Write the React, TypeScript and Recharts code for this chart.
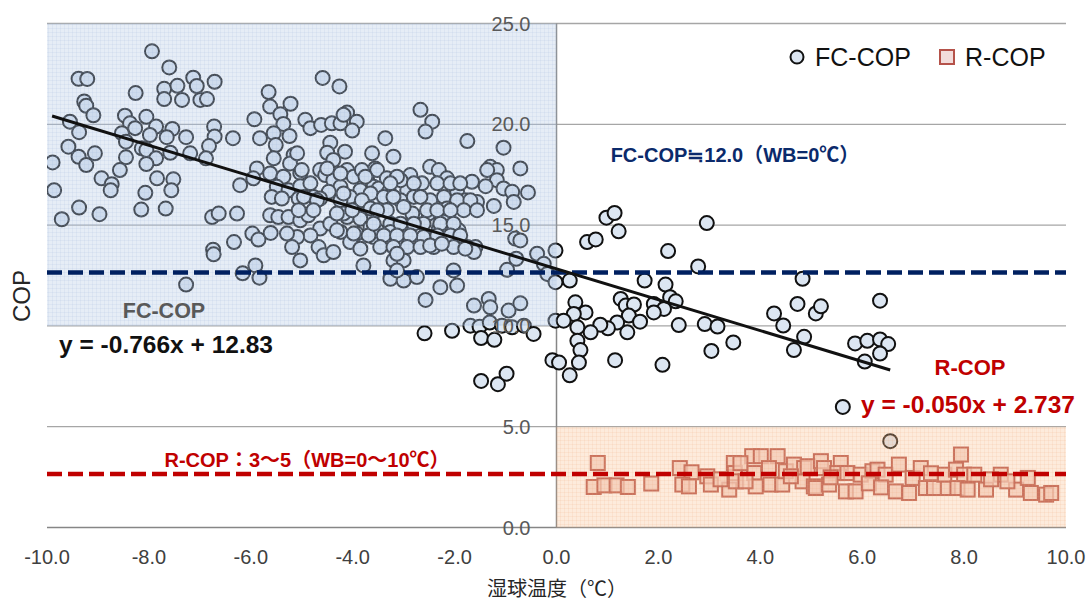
import React from 'react';
import { ScatterChart, Scatter, XAxis, YAxis, ReferenceLine, ReferenceArea, ReferenceDot } from 'recharts';

const W = 1089;
const H = 603;
const FONT = "'Liberation Sans', Arial, sans-serif";
const FONT_JP = "'Liberation Sans', 'Noto Sans CJK JP', sans-serif";

const xTicks = [-10, -8, -6, -4, -2, 0, 2, 4, 6, 8, 10];
const yTicks = [0, 5, 10, 15, 20, 25];

// FC-COP: wet-bulb temperature (x) and COP (y)
const fcWb = [
  -7.94, -7.60, -9.38, -9.21, -8.26, -7.70, -7.44, -7.13, -7.06, -6.71, -7.70, -7.35, -6.99, -6.86, -9.27, -9.23,
  -9.09, -9.55, -9.37, -8.47, -8.05, -8.37, -8.27, -8.53, -8.45, -7.86, -7.54, -7.98, -7.65, -7.27, -6.72, -6.71,
  -6.82, -6.35, -5.93, -5.65, -5.62, -5.22, -5.42, -5.36, -5.55, -5.24, -5.82, -5.51, -5.55, -5.16, -5.23, -9.58,
  -9.38, -9.23, -9.06, -9.89, -8.45, -8.57, -8.14, -8.05, -7.86, -8.05, -7.58, -7.19, -6.88, -7.84, -7.52, -8.93,
  -8.73, -5.88, -5.95, -6.21, -5.62, -5.36, -9.86, -9.71, -9.37, -8.97, -8.75, -8.07, -8.15, -7.67, -7.56, -6.76,
  -6.63, -6.27, -6.74, -6.73, -6.33, -5.97, -5.85, -5.61, -7.27, -6.16, -5.91, -5.83, -5.09, -4.93, -4.83, -4.62,
  -4.41, -4.24, -4.11, -3.92, -4.01, -4.44, -4.50, -4.15, -3.62, -3.56, -5.03, -5.49, -5.26, -5.03, -4.83, -5.59,
  -5.39, -5.06, -4.77, -4.64, -4.54, -4.38, -4.24, -4.11, -3.98, -3.82, -3.72, -3.59, -3.52, -3.85, -4.05, -4.24,
  -4.47, -4.64, -5.62, -5.46, -5.26, -5.03, -4.87, -4.64, -4.83, -5.09, -5.29, -5.19, -5.03, -4.67, -4.57, -4.38,
  -4.24, -4.11, -3.85, -3.65, -3.92, -4.05, -3.85, -3.79, -3.59, -4.59, -4.26, -4.18, -4.38, -5.00, -3.36, -3.20,
  -2.67, -2.44, -2.57, -1.75, -1.04, -0.71, -0.56, -1.30, -1.17, -1.36, -1.17, -1.04, -0.87, -0.84, -1.23, -1.66,
  -1.39, -2.48, -2.31, -2.15, -1.95, -1.79, -1.56, -2.87, -2.64, -2.93, -3.06, -3.49, -3.29, -3.65, -3.82, -1.92,
  -2.25, -2.51, -2.83, -2.61, -2.31, -4.18, -4.44, -5.06, -3.52, -3.26, -0.81, -0.71, -4.50, -4.24, -3.75, -3.33,
  -3.13, -2.80, -4.96, -4.70, -4.18, -3.39, -3.06, -2.80, -2.48, -2.21, -1.95, -1.69, -4.77, -4.31, -4.01, -3.65,
  -3.33, -3.00, -2.15, -1.82, -4.31, -3.98, -3.69, -3.26, -2.97, -2.61, -3.26, -2.34, -2.08, -1.89, -3.20, -2.67,
  -3.52, -2.54, -2.34, -2.08, -1.56, -3.59, -3.06, -2.80, -2.28, -2.02, -3.39, -3.13, -2.87, -2.34, -2.08, -1.89,
  -3.46, -3.20, -2.93, -2.67, -2.41, -2.02, -1.75, -1.59, -3.20, -3.00, -0.38, -0.25, -0.18, -0.02, -0.02, -2.02,
  -1.95, -2.28, -3.26, -3.00, -2.74, -3.13, -1.62, -1.79, -2.57, -2.48, -2.25, -0.79, -0.97, -1.62, -1.33, -1.30,
  -0.94, -0.71, -1.69, -1.51, -1.31, -1.07, -0.87, -0.64, -0.45, -1.48, -1.22, -2.59, -2.05, -1.48, -1.15, -0.98,
  -0.08, 0.05, -0.02, -3.13,
  0.98, 1.14, 1.22, 0.60, 0.77, 2.95, 2.19, 2.78, 0.26, 1.73, 2.14, 2.23, 2.34, 1.91, 2.11, 1.91,
  1.26, 1.36, 1.52, 1.42, 1.64, 1.39, 1.19, 1.01, 0.86, 0.67, 0.57, 0.37, 0.34, 0.14, 0.41, 0.41,
  0.47, 0.44, 0.26, 1.15, 2.08, 2.40, 2.91, 3.16, 3.47, 3.04, 4.27, 4.45, 4.73, 4.83, 4.86, 4.66,
  5.09, 5.19, 6.35, 5.86, 6.10, 6.35, 6.51, 6.35, 6.05, 5.62, 6.55,
];
const fcCop = [
  23.62, 22.82, 22.26, 22.25, 21.55, 21.76, 21.91, 22.31, 21.90, 22.11, 21.25, 21.21, 21.21, 21.25, 21.13, 20.92,
  20.45, 20.13, 19.61, 20.43, 20.37, 20.05, 19.81, 19.56, 19.14, 19.89, 19.77, 19.47, 19.36, 19.36, 19.89, 19.39,
  18.92, 19.31, 20.25, 21.60, 20.88, 21.02, 20.50, 20.02, 19.56, 19.42, 19.31, 18.97, 18.31, 18.48, 18.06, 18.89,
  18.39, 17.98, 18.56, 18.11, 18.36, 17.73, 18.81, 18.72, 18.31, 18.03, 18.59, 18.56, 18.31, 17.32, 17.27, 17.32,
  17.03, 17.81, 17.32, 16.98, 17.56, 17.40, 16.73, 15.29, 15.87, 15.54, 16.73, 16.60, 15.77, 15.82, 16.73, 15.40,
  15.57, 15.57, 13.78, 13.55, 14.16, 14.58, 14.28, 14.61, 12.05, 12.61, 13.00, 12.39, 18.56, 20.22, 19.81, 19.97,
  20.05, 20.05, 20.58, 20.13, 19.69, 19.09, 18.59, 18.64, 18.56, 17.81, 17.59, 16.90, 16.73, 16.93, 17.07, 16.40,
  16.32, 16.32, 16.40, 17.73, 17.48, 17.23, 16.90, 17.73, 17.40, 17.73, 17.32, 16.90, 17.73, 16.73, 16.40, 16.23,
  16.65, 16.32, 15.49, 15.40, 15.40, 15.24, 15.49, 14.83, 14.49, 14.41, 14.58, 13.91, 13.25, 13.91, 13.50, 13.66,
  14.66, 15.40, 15.32, 14.91, 14.58, 14.16, 13.83, 13.00, 14.41, 22.30, 21.88, 20.47, 18.23, 17.73, 19.31, 18.39,
  20.72, 20.13, 19.64, 19.17, 18.84, 17.81, 16.62, 17.89, 17.73, 17.73, 17.23, 16.82, 16.65, 16.15, 15.95, 17.15,
  16.93, 17.89, 17.73, 17.32, 16.65, 16.23, 16.15, 17.48, 17.07, 16.73, 17.23, 16.82, 16.65, 16.57, 16.23, 14.74,
  15.32, 15.57, 15.57, 15.07, 14.83, 15.57, 15.07, 15.74, 14.74, 15.07, 14.33, 14.24, 17.81, 17.56, 17.40, 17.32,
  17.40, 17.07, 16.40, 16.23, 16.57, 16.40, 16.23, 16.40, 16.23, 16.40, 16.23, 16.23, 15.74, 15.57, 15.74, 15.82,
  15.74, 15.90, 15.82, 15.74, 14.74, 14.58, 14.49, 14.66, 14.58, 14.41, 17.07, 17.07, 17.07, 17.07, 16.40, 16.40,
  15.74, 15.74, 15.74, 15.74, 15.74, 15.07, 15.07, 15.07, 15.07, 15.07, 14.49, 14.49, 14.49, 14.49, 14.49, 14.49,
  13.91, 13.91, 13.91, 13.91, 13.91, 13.91, 13.91, 13.91, 13.25, 13.25, 13.58, 13.08, 12.58, 13.74, 12.17, 12.75,
  12.00, 11.92, 12.34, 12.25, 12.42, 12.75, 13.66, 13.83, 11.29, 13.99, 14.08, 13.33, 12.78, 11.01, 11.34, 10.92,
  10.76, 11.12, 10.01, 9.96, 10.17, 10.01, 9.93, 10.01, 9.60, 9.40, 9.31, 9.63, 9.76, 7.27, 7.11, 7.63,
  8.30, 8.18, 10.26, 13.58,
  15.37, 15.60, 14.69, 14.16, 14.29, 15.10, 13.71, 12.95, 12.25, 12.25, 12.05, 11.42, 11.22, 11.09, 10.84, 10.67,
  11.34, 11.01, 11.06, 10.51, 10.21, 9.68, 10.17, 9.88, 10.06, 9.68, 10.67, 11.17, 10.59, 10.26, 9.93, 9.26,
  8.80, 8.18, 7.55, 8.30, 8.07, 10.04, 10.09, 9.97, 9.18, 8.76, 10.62, 10.02, 11.09, 12.34, 9.46, 8.80,
  10.62, 10.97, 11.25, 9.13, 9.26, 9.33, 9.10, 8.63, 8.23, 5.98, 4.28,
];

// R-COP
const rWb = [
  0.81, 0.73, 0.94, 1.18, 1.40, 1.86, 2.42, 2.65, 2.47, 2.60, 2.96, 3.03, 3.39, 3.48, 3.50, 3.52,
  3.84, 4.01, 4.34, 3.88, 4.17, 3.91, 4.20, 4.43, 4.50, 4.66, 4.86, 4.83, 5.05, 3.71, 4.93, 5.19,
  5.25, 5.58, 5.51, 5.71, 5.09, 5.35, 5.68, 5.87, 5.97, 6.20, 6.30, 6.46, 6.72, 6.66, 6.92, 6.99,
  7.15, 7.25, 7.41, 7.68, 7.61, 7.84, 7.94, 8.00, 7.87, 8.07, 8.43, 8.20, 8.72, 9.02, 9.31, 9.61,
  9.71, 8.85, 9.25, 3.22, 3.61, 4.60, 5.38, 6.13, 6.37, 7.35, 8.53,
];
const rCop = [
  3.20, 2.01, 2.09, 2.09, 2.01, 2.18, 2.95, 2.74, 2.13, 2.04, 2.54, 2.13, 1.88, 3.20, 2.70, 2.29,
  3.54, 3.54, 3.54, 2.70, 2.95, 2.04, 2.13, 2.13, 2.79, 3.12, 2.95, 2.29, 2.04, 2.29, 3.04, 3.29,
  2.95, 3.20, 2.70, 2.70, 1.96, 2.13, 1.79, 1.79, 2.62, 2.79, 2.87, 2.62, 3.12, 1.79, 1.71, 2.46,
  2.95, 1.96, 1.96, 1.96, 2.62, 2.87, 3.62, 2.62, 1.96, 1.88, 1.88, 2.62, 2.62, 1.88, 1.71, 1.63,
  1.71, 2.29, 2.46, 2.39, 3.19, 2.54, 2.49, 2.19, 1.99, 2.69, 2.39,
];

const fcSlope = -0.766;
const fcIntercept = 12.83;
const fcTrendRange = [-9.9, 6.55];
const fcLevel = 12.65;
const rLevel = 2.65;

const fcData = fcWb.map((x, i) => ({ x, y: fcCop[i] }));
const rData = rWb.map((x, i) => ({ x, y: rCop[i] }));

const CircleMark = (p: any) => (
  <circle cx={p.cx} cy={p.cy} r={7} fill="#dce6f2" stroke="#111" strokeWidth={2} />
);
const SquareMark = (p: any) => (
  <rect x={p.cx - 7} y={p.cy - 7} width={14} height={14} fill="#f2d0c8" fillOpacity={0.75} stroke="#b5524a" strokeWidth={2} />
);

const abs = (left: number, top: number, extra: any = {}) => ({
  position: 'absolute' as const,
  left,
  top,
  transform: 'translate(-50%, -50%)',
  whiteSpace: 'nowrap' as const,
  lineHeight: 1,
  ...extra,
});

export default function App() {
  return (
    <div style={{ position: 'absolute', left: 0, top: 0, width: W, height: H, background: '#fff' }}>
      <ScatterChart width={W} height={H} margin={{ top: 23.5, right: 23, bottom: 35.5, left: 47 }}>
        <defs>
          <pattern id="bluePat" width="4" height="4" patternUnits="userSpaceOnUse">
            <rect width="4" height="4" fill="rgb(180,200,228)" fillOpacity="0.33" />
            <rect width="4" height="1" fill="rgb(150,175,215)" fillOpacity="0.12" />
            <rect width="1" height="4" fill="rgb(150,175,215)" fillOpacity="0.12" />
          </pattern>
          <pattern id="orangePat" width="4" height="4" patternUnits="userSpaceOnUse">
            <rect width="4" height="4" fill="rgb(250,190,140)" fillOpacity="0.3" />
            <rect width="4" height="1" fill="rgb(240,170,120)" fillOpacity="0.12" />
            <rect width="1" height="4" fill="rgb(240,170,120)" fillOpacity="0.12" />
          </pattern>
        </defs>
        <XAxis
          type="number"
          dataKey="x"
          domain={[-10, 10]}
          ticks={xTicks}
          tickFormatter={(v: number) => v.toFixed(1)}
          axisLine={{ stroke: '#868686', strokeWidth: 1.5 }}
          tickLine={false}
          tickSize={0}
          tickMargin={22}
          height={40}
          tick={{ fill: '#404040', fontSize: 20, fontFamily: FONT }}
          allowDataOverflow
        />
        <YAxis type="number" dataKey="y" domain={[0, 25]} hide allowDataOverflow />
        {yTicks.slice(1).map((v) => (
          <ReferenceLine key={'g' + v} y={v} stroke="#a6a6a6" strokeWidth={1.3} />
        ))}
        <ReferenceLine x={0} stroke="#868686" strokeWidth={1.5} />
        {yTicks.map((v) => (
          <ReferenceDot
            key={'t' + v}
            x={0}
            y={v}
            r={1}
            fill="none"
            stroke="none"
            label={{ value: v.toFixed(1), position: 'left', offset: 25, fill: '#595959', fontSize: 20, fontFamily: FONT }}
          />
        ))}
        <Scatter data={fcData} shape={CircleMark} isAnimationActive={false} />
        <Scatter data={rData} shape={SquareMark} isAnimationActive={false} />
        <ReferenceArea x1={-10} x2={0} y1={10} y2={25} fill="url(#bluePat)" fillOpacity={1} stroke="none" zIndex={700} />
        <ReferenceArea x1={0} x2={10} y1={0} y2={5} fill="url(#orangePat)" fillOpacity={1} stroke="none" zIndex={700} />
        <ReferenceLine y={fcLevel} stroke="#002060" strokeWidth={4.5} strokeDasharray="15 6" zIndex={800} />
        <ReferenceLine y={rLevel} stroke="#c00000" strokeWidth={4.5} strokeDasharray="15 6" zIndex={800} />
        <ReferenceLine
          segment={[
            { x: fcTrendRange[0], y: fcSlope * fcTrendRange[0] + fcIntercept },
            { x: fcTrendRange[1], y: fcSlope * fcTrendRange[1] + fcIntercept },
          ]}
          stroke="#111"
          strokeWidth={3}
          zIndex={800}
        />
      </ScatterChart>

      {/* legend */}
      <svg style={{ position: 'absolute', left: 789, top: 49 }} width={16} height={16}>
        <circle cx={8} cy={8} r={6.5} fill="#dce6f2" stroke="#111" strokeWidth={2} />
      </svg>
      <div style={{ position: 'absolute', left: 815, top: 45, fontFamily: FONT, fontSize: 25, lineHeight: 1, color: '#111' }}>FC-COP</div>
      <svg style={{ position: 'absolute', left: 939, top: 49 }} width={16} height={16}>
        <rect x={1} y={1} width={14} height={14} fill="#f2dcdb" stroke="#b5524a" strokeWidth={2} />
      </svg>
      <div style={{ position: 'absolute', left: 965, top: 45, fontFamily: FONT, fontSize: 25, lineHeight: 1, color: '#111' }}>R-COP</div>

      {/* annotations */}
      <div style={abs(735, 155, { fontFamily: FONT_JP, fontSize: 20, fontWeight: 700, color: '#0b2a6b' })}>FC-COP≒12.0（WB=0℃）</div>
      <div style={abs(164, 312, { fontFamily: FONT, fontSize: 21.5, fontWeight: 700, color: '#595959' })}>FC-COP</div>
      <div style={abs(166, 345, { fontFamily: FONT, fontSize: 24.5, fontWeight: 700, color: '#111' })}>y = -0.766x + 12.83</div>
      <div style={abs(970, 368, { fontFamily: FONT, fontSize: 22, fontWeight: 700, color: '#c00000' })}>R-COP</div>
      <div style={abs(968, 405, { fontFamily: FONT, fontSize: 24.5, fontWeight: 700, color: '#c00000' })}>y = -0.050x + 2.737</div>
      <div style={abs(307, 460, { fontFamily: FONT_JP, fontSize: 20, fontWeight: 700, color: '#c00000' })}>R-COP：3〜5（WB=0〜10℃）</div>
      <div style={abs(22, 296, { fontFamily: FONT, fontSize: 24, color: '#262626', transform: 'translate(-50%, -50%) rotate(-90deg)' })}>COP</div>
      <div style={abs(557, 588, { fontFamily: "'Noto Sans CJK JP', sans-serif", fontSize: 20, color: '#262626' })}>湿球温度（℃）</div>
    </div>
  );
}
